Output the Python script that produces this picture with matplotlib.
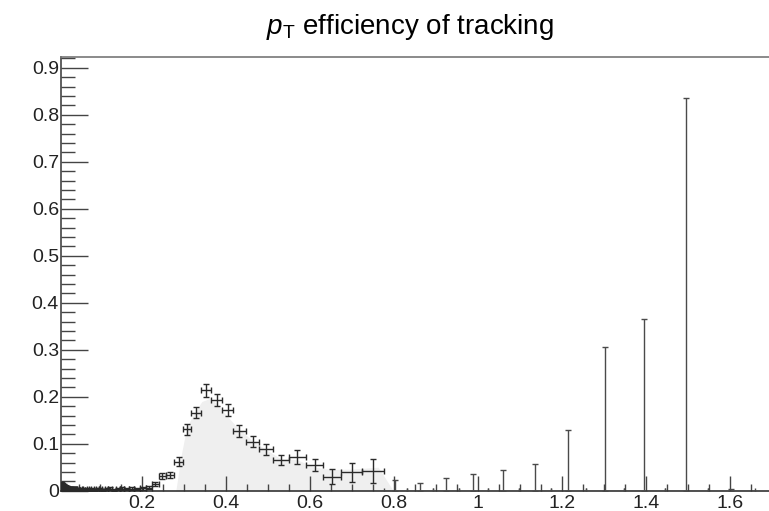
import matplotlib.pyplot as plt
import numpy as np
from matplotlib.ticker import MultipleLocator, FuncFormatter

plt.rcParams['font.family'] = ['Liberation Sans', 'DejaVu Sans']
plt.rcParams['mathtext.fontset'] = 'custom'
plt.rcParams['mathtext.rm'] = 'Liberation Sans'
plt.rcParams['mathtext.it'] = 'Liberation Sans:italic'

# low-pt bins (dense log binning near zero)
low_pt = [0.0062, 0.0067, 0.0071, 0.0077, 0.0082, 0.0088, 0.0094, 0.0101, 0.0109, 0.0116,
          0.0125, 0.0134, 0.0143, 0.0154, 0.0165, 0.0176, 0.0189, 0.0203, 0.0217, 0.0233,
          0.0250, 0.0268, 0.0287, 0.0308, 0.0330, 0.0354, 0.0379, 0.0406, 0.0436, 0.0467,
          0.0501, 0.0537, 0.0575, 0.0617, 0.0661, 0.0709, 0.0760, 0.0814, 0.0873, 0.0936,
          0.1003, 0.1075, 0.1153, 0.1236, 0.1325, 0.1420, 0.1522, 0.1632, 0.1749, 0.1875,
          0.2010, 0.2155]
low_eff = [0.011, 0.011, 0.010, 0.010, 0.010, 0.009, 0.009, 0.009, 0.008, 0.008,
           0.008, 0.007, 0.007, 0.007, 0.006, 0.006, 0.006, 0.005, 0.005, 0.005,
           0.004, 0.004, 0.004, 0.004, 0.003, 0.003, 0.003, 0.003, 0.003, 0.003,
           0.002, 0.002, 0.003, 0.002, 0.002, 0.003, 0.002, 0.003, 0.002, 0.003,
           0.003, 0.002, 0.003, 0.004, 0.002, 0.003, 0.004, 0.003, 0.004, 0.003,
           0.005, 0.006]
low_err = [0.008, 0.008, 0.008, 0.007, 0.007, 0.007, 0.007, 0.006, 0.006, 0.006,
           0.006, 0.005, 0.005, 0.005, 0.005, 0.004, 0.004, 0.004, 0.004, 0.003,
           0.003, 0.003, 0.003, 0.003, 0.002, 0.002, 0.002, 0.002, 0.002, 0.002,
           0.002, 0.002, 0.002, 0.002, 0.002, 0.002, 0.002, 0.002, 0.002, 0.002,
           0.002, 0.002, 0.002, 0.003, 0.002, 0.002, 0.003, 0.002, 0.003, 0.002,
           0.003, 0.003]

# turn-on region
mid_pt = [0.231, 0.248, 0.266, 0.2875, 0.306, 0.327, 0.352, 0.377, 0.404,
          0.431, 0.4645, 0.494, 0.530, 0.568, 0.611, 0.651, 0.699, 0.750]
mid_eff = [0.014, 0.031, 0.033, 0.062, 0.131, 0.166, 0.214, 0.193, 0.171,
           0.127, 0.104, 0.088, 0.065, 0.071, 0.055, 0.030, 0.039, 0.042]
mid_err = [0.004, 0.006, 0.006, 0.010, 0.012, 0.012, 0.014, 0.013, 0.013,
           0.012, 0.012, 0.011, 0.011, 0.015, 0.013, 0.016, 0.020, 0.025]

# high-pt bins: zero passed, only upper errors
high_pt = [0.802, 0.862, 0.923, 0.989, 1.060, 1.136, 1.215, 1.302, 1.395, 1.495, 1.603]
high_eff = [0, 0, 0, 0, 0, 0, 0, 0, 0, 0, 0]
high_up = [0.022, 0.017, 0.028, 0.035, 0.044, 0.057, 0.129, 0.305, 0.366, 0.836, 0.004]

# shaded reference shape
shade_pt = [0.280, 0.292, 0.306, 0.327, 0.342, 0.360, 0.377, 0.401, 0.425,
            0.464, 0.494, 0.530, 0.568, 0.611, 0.651, 0.699, 0.762, 0.798]
shade_val = [0.0, 0.072, 0.136, 0.170, 0.190, 0.196, 0.186, 0.160, 0.136,
             0.105, 0.088, 0.068, 0.066, 0.050, 0.045, 0.046, 0.050, 0.0]


def half_widths(centers):
    c = np.asarray(centers)
    mids = np.sqrt(c[:-1] * c[1:])
    edges = np.concatenate([[c[0] ** 2 / mids[0]], mids, [c[-1] ** 2 / mids[-1]]])
    return c - edges[:-1], edges[1:] - c


def main():
    fig = plt.figure(figsize=(7.69, 5.11), dpi=100)
    ax = fig.add_axes([61 / 769, 20.3 / 511, 1 - 61 / 769, 433.2 / 511])

    ax.fill_between(shade_pt, shade_val, color='#efefef', lw=0, zorder=1)

    all_pt = low_pt + mid_pt + high_pt
    xlo, xhi = half_widths(all_pt)
    n_low, n_mid = len(low_pt), len(mid_pt)

    style = dict(fmt='none', ecolor='#2a2a2a', elinewidth=1.0, capsize=2,
                 capthick=1.0, zorder=3)
    s = slice(0, n_low)
    ax.errorbar(low_pt, low_eff, yerr=low_err, xerr=[xlo[s], xhi[s]], **style)
    s = slice(n_low, n_low + n_mid)
    ax.errorbar(mid_pt, mid_eff, yerr=mid_err, xerr=[xlo[s], xhi[s]], **style)
    s = slice(n_low + n_mid, None)
    style['ecolor'] = '#4a4a4a'
    ax.errorbar(high_pt, high_eff, yerr=[np.zeros(len(high_pt)), high_up],
                xerr=[xlo[s], xhi[s]], **style)

    ax.set_xlim(0.0064, 1.693)
    ax.set_ylim(0, 0.922)

    ax.xaxis.set_major_locator(MultipleLocator(0.2))
    ax.xaxis.set_minor_locator(MultipleLocator(0.05))
    ax.yaxis.set_major_locator(MultipleLocator(0.1))
    ax.yaxis.set_minor_locator(MultipleLocator(0.02))
    ax.xaxis.set_major_formatter(FuncFormatter(lambda v, p: '%g' % round(v, 2)))
    ax.yaxis.set_major_formatter(FuncFormatter(lambda v, p: '%g' % round(v, 2)))

    ax.tick_params(axis='both', which='both', direction='in', colors='#444444',
                   labelcolor='#222222', labelsize=14)
    ax.tick_params(axis='y', which='major', length=19.5, width=1.0, pad=1.5)
    ax.tick_params(axis='y', which='minor', length=10, width=1.0)
    ax.tick_params(axis='x', which='major', length=10.8, width=1.0, pad=3)
    ax.tick_params(axis='x', which='minor', length=5, width=1.0)
    ax.tick_params(top=False, right=False, which='both')

    ax.spines['right'].set_visible(False)
    ax.spines['left'].set_color('#444444')
    ax.spines['bottom'].set_color('#333333')
    ax.spines['top'].set_color('#777777')
    for sp in ('left', 'bottom', 'top'):
        ax.spines[sp].set_linewidth(1.2)

    fig.text(410 / 769, 1 - 34 / 511, r'$p_{\mathrm{T}}$ efficiency of tracking',
             ha='center', va='baseline', fontsize=20)

    fig.savefig('out.png', dpi=100)


if __name__ == '__main__':
    main()
